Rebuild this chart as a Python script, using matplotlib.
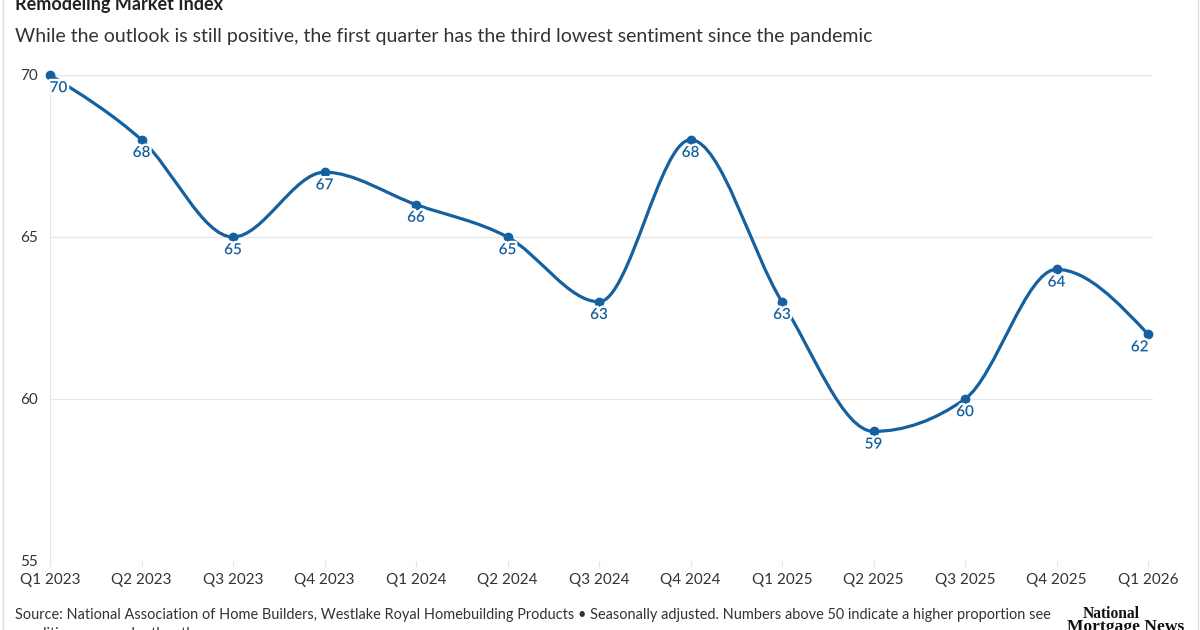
import matplotlib; matplotlib.use("Agg")
import matplotlib.pyplot as plt
from matplotlib.path import Path
from matplotlib.patches import PathPatch
from matplotlib.lines import Line2D
import matplotlib.patheffects as pe
import numpy as np

quarters = ["Q1 2023", "Q2 2023", "Q3 2023", "Q4 2023", "Q1 2024", "Q2 2024", "Q3 2024",
            "Q4 2024", "Q1 2025", "Q2 2025", "Q3 2025", "Q4 2025", "Q1 2026"]
index_vals = [70, 68, 65, 67, 66, 65, 63, 68, 63, 59, 60, 64, 62]
yticks = [55, 60, 65, 70]

BLUE = "#15609e"; GRID = "#e6e6e6"; TXT = "#333333"
plt.rcParams["font.family"] = ["Lato", "DejaVu Sans"]

def monotone_path(x, y):
    # d3 curveMonotoneX style bezier segments
    x = np.asarray(x, float); y = np.asarray(y, float)
    h = np.diff(x); s = np.diff(y) / h
    n = len(x); t = np.zeros(n)
    for i in range(1, n - 1):
        p = (s[i-1] * h[i] + s[i] * h[i-1]) / (h[i-1] + h[i])
        t[i] = (np.sign(s[i-1]) + np.sign(s[i])) * min(abs(s[i-1]), abs(s[i]), 0.5 * abs(p))
    t[0] = (3 * s[0] - t[1]) / 2
    t[-1] = (3 * s[-1] - t[-2]) / 2
    verts = [(x[0], y[0])]; codes = [Path.MOVETO]
    for i in range(n - 1):
        dx = h[i] / 3
        verts += [(x[i] + dx, y[i] + dx * t[i]), (x[i+1] - dx, y[i+1] - dx * t[i+1]), (x[i+1], y[i+1])]
        codes += [Path.CURVE4] * 3
    return Path(verts, codes)

fig = plt.figure(figsize=(12, 6.3), dpi=100)
L, R, T, B = 50, 1153, 75, 561
ax = fig.add_axes([L / 1200, (630 - B) / 630, (R - L) / 1200, (B - T) / 630])
xs = np.arange(len(quarters))
ax.set_xlim(0, 12 * (R - L) / 1098)
ax.set_ylim(55, 70)

for sp in ["top", "right", "bottom"]:
    ax.spines[sp].set_visible(False)
ax.spines["left"].set_color(GRID)
ax.spines["left"].set_linewidth(0.8)
ax.set_yticks(yticks)
ax.set_yticklabels([str(v) for v in yticks], ha="left")
ax.tick_params(axis="y", length=0, pad=21.6, labelsize=11, labelcolor=TXT)
ax.set_xticks(xs)
ax.set_xticklabels(quarters)
ax.tick_params(axis="x", length=4, color=GRID, pad=4.5, labelsize=11, labelcolor=TXT)
ax.grid(axis="y", color=GRID, lw=0.9)
ax.set_axisbelow(True)

ax.add_patch(PathPatch(monotone_path(xs, index_vals), fill=False, edgecolor=BLUE, lw=2.3,
                       capstyle="round", joinstyle="round", clip_on=False, zorder=3))
ax.plot(xs, index_vals, "o", color=BLUE, ms=6, clip_on=False, zorder=4)

halo = [pe.withStroke(linewidth=3.5, foreground="white")]
for i, v in enumerate(index_vals):
    dx = 0
    if i == 0: dx = 6
    if i == len(index_vals) - 1: dx = -6
    ax.annotate(str(v), (xs[i], v), xytext=(dx, -9.5), textcoords="offset points",
                ha="center", va="center", fontsize=11, fontweight="semibold", color=BLUE,
                path_effects=halo, zorder=5)

fig.text(15 / 1200, 1 - 10 / 630, "Remodeling Market Index", fontsize=13, fontweight="bold",
         color="#222222", va="baseline")
fig.text(15 / 1200, 1 - 42 / 630, "While the outlook is still positive, the first quarter has the third lowest sentiment since the pandemic",
         fontsize=14.0, color="#333333", va="baseline")
fig.text(15 / 1200, 1 - 619 / 630,
         "Source: National Association of Home Builders, Westlake Royal Homebuilding Products \u2022 Seasonally adjusted. Numbers above 50 indicate a higher proportion see",
         fontsize=10.47, color="#333333", va="baseline")
fig.text(15 / 1200, 1 - 638 / 630, "conditions as good rather than poor.",
         fontsize=10.47, color="#333333", va="baseline")
fig.text(1111 / 1200, 1 - 618 / 630, "National", fontsize=11.2, fontweight="bold",
         family="Liberation Serif", color="#111111", ha="center", va="baseline")
fig.text(1125.5 / 1200, 1 - 631 / 630, "Mortgage News", fontsize=12.6, fontweight="bold",
         family="Liberation Serif", color="#111111", ha="center", va="baseline")

fig.add_artist(Line2D([2.5 / 1200, 2.5 / 1200], [0, 1], transform=fig.transFigure, color="#dddddd", lw=1))
fig.add_artist(Line2D([1197.5 / 1200, 1197.5 / 1200], [0, 1], transform=fig.transFigure, color="#dddddd", lw=1))

fig.savefig("out.png", dpi=100)
